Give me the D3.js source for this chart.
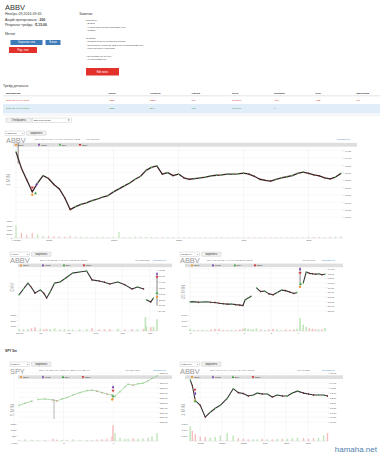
<!DOCTYPE html>
<html>
<head>
<meta charset="utf-8">
<script src="https://cdn.jsdelivr.net/npm/d3@7"></script>
<style>
body { margin: 0; background: #fff; }
svg text { font-family: "Liberation Sans", Arial, sans-serif; }
</style>
</head>
<body>
<script>
// ---------- trade info ----------
var tradeCols = ["Дата/Время", "Тикер", "Сторона", "Объём", "Цена", "Позиция", "Итог", "Максимум"];
var tradeRows = [
  ["2016-11-09 09:45:20", "ABBV", "SELL", "100", "61.8000", "-100", "-15$", "3%"],
  ["2016-11-09 09:45:18", "ABBV", "BUY", "100", "61.9700", "0", "", ""]
];
var noteLines = ["Причины:", "- В игре", "- с открытия пошла закрывать гэп", "- Пойма", "",
  "Ошибки:", "- подала больше 2 дол/без отката", "- вход перед уровнем 65$ в 15 консолидаций дне", "- рано вышел с открытия", "",
  "Что сделал бы лучше:", "- не торговала бы"];

// ---------- chart A: ABBV 1 min (minutes from 9:30) ----------
var aMin = [0,5,10,15,20,25,30,35,40,45,50,55,60,65,70,75,80,85,90,95,100,105,110,115,120,125,130,135,140,145,150,155,160,165,170,175,180,185,190,195,200,205,210,215,220,225,230,235,240,245,250,255,260,265,270,275,280,285,290,295,300];
var aClose = [64.4,63.3,62.5,61.7,62.3,62.8,62.6,62.2,61.9,61.3,60.5,60.7,60.85,60.95,61.1,61.2,61.35,61.45,61.7,61.9,62.1,62.3,62.55,62.75,63.15,63.35,63.45,62.9,63.0,62.8,62.9,62.65,62.55,62.6,62.65,62.7,62.78,62.82,62.85,62.9,62.9,62.92,62.97,62.9,62.75,62.55,62.48,62.43,62.55,62.65,62.72,62.8,62.95,63.04,62.95,62.85,62.78,62.65,62.57,62.7,62.95];
var aVol = [6000,2400,1500,2500,1800,1100,900,800,700,600,900,700,600,500,500,600,500,450,500,2800,500,450,600,700,500,500,400,400,350,400,300,300,350,300,300,350,300,400,500,350,300,300,250,300,300,350,300,300,350,400,350,300,300,350,400,450,500,400,500,600,700];
var aWicks = [[2, 65.0, 63.6]];
var aMarks = [["sell", 15, 62.0], ["open", 15, 61.5], ["buy", 18, 61.6], ["close", 19, 62.2]];
var aTicks = [0, 30, 90, 150, 210, 270];
var aTickLabels = ["9:30am", "10am", "11am", "12pm", "1pm", "2pm"];
var aYTicks = [60, 60.5, 61, 61.5, 62, 62.5, 63, 63.5, 64, 64.5, 65];

// ---------- chart B: ABBV daily ----------
var bDates = ["2016-06-07","2016-06-12","2016-06-17","2016-06-21","2016-06-25","2016-07-01","2016-07-05","2016-07-08","2016-07-12","2016-07-17","2016-07-23","2016-07-28","2016-08-02","2016-08-06","2016-08-14","2016-08-22","2016-08-28","2016-09-05","2016-09-11","2016-09-17","2016-09-26","2016-10-04","2016-10-12","2016-10-18","2016-10-25","2016-10-27","2016-10-28","2016-11-02","2016-11-05","2016-11-09"];
var bClose = [59.5,61.5,63.5,62.0,60.1,61.2,60.0,58.4,60.5,63.5,63.9,64.9,66.0,66.9,67.3,67.6,64.6,64.2,63.8,63.2,63.9,62.9,61.5,62.2,61.5,null,57.8,57.1,58.4,null];
var bVol = [400,300,350,500,700,450,300,400,350,500,300,350,300,250,300,350,500,300,300,350,400,300,350,300,400,2600,900,700,800,2200];
var bWicks = [["2016-11-09", 66.2, 55.9]];
var bMarks = [["close", "2016-11-09", 66.6], ["sell", "2016-11-09", 65.6], ["buy", "2016-11-09", 60.1], ["open", "2016-11-09", 58.8]];
var bTicks = ["2016-06-07", "2016-07-01", "2016-08-01", "2016-09-01", "2016-10-01", "2016-11-01"];
var bTickLabels = ["Jun 07", "Jul", "Aug", "Sep", "Oct", "Nov"];
var bYTicks = [54, 56, 58, 60, 62, 64, 66, 68, 70];

// ---------- chart C: ABBV 15 min (bar index, 26 bars a day) ----------
var cIdx = [0,4,8,12,16,20,24,28,32,36,40,44,48,51,53,56,59,61,64,68,72,76,80,84,88,92,96,100,103,106,109,112,115,118,121,124,127,130];
var cClose = [56.9,56.95,56.8,56.85,56.9,56.8,56.75,56.6,56.5,56.4,56.45,56.3,56.2,56.1,57.3,57.7,58.1,null,59.9,59.1,59.2,58.6,58.4,58.9,59.4,59.3,59.0,58.7,58.9,null,60.9,63.3,63.0,62.9,62.8,62.9,62.7,62.8];
var cVol = [0.4,0.2,0.2,0.2,0.2,0.3,0.4,0.4,0.2,0.2,0.2,0.2,0.3,0.4,0.6,0.4,0.3,0.3,0.5,0.3,0.2,0.3,0.4,0.3,0.2,0.3,0.2,0.3,0.4,2.4,1.2,0.8,0.5,0.4,0.3,0.3,0.3,0.6];
var cWicks = [[106, 64.2, 60.0]];
var cMarks = [["close", 106, 63.9], ["sell", 106, 63.1], ["buy", 106.5, 60.7], ["open", 106, 60.1]];
var cTicks = [0, 26, 52, 78, 104];
var cTickLabels = ["3", "4", "7", "8", "9"];
var cYTicks = [55, 56, 57, 58, 59, 60, 61, 62, 63, 64, 65];

// ---------- chart D: SPY 5 min (hours from Nov 7 00:00) ----------
var dT = [2.4,5.3,8.7,10,11.6,15,18.9,20.8,23.3,25.7,28.6,32,35.4,37.8,40.2,42.7,45.1,47.5,48,49,51.4,53.8,55.3,57.7,60.1,62.5,65,66.9,69.3];
var dClose = [211.4,211.8,212.3,null,212.6,212.7,212.5,212.3,212.7,213.0,213.5,214.0,214.4,214.5,214.3,214.0,213.7,213.5,212.8,213.3,214.2,215.2,215.7,215.5,215.8,215.9,216.4,216.9,217.4];
var dVol = [100,150,120,0,90,100,200,120,100,120,150,100,90,100,120,150,200,400,1400,700,300,200,200,250,200,250,300,400,700];
var dWicks = [[19.4, 212.6, 208.6]];
var dMarks = [["close", 48, 215.1], ["sell", 48, 214.4], ["buy", 48, 213.3], ["open", 47.6, 212.6]];
var dTicks = [0, 24, 48];
var dTickLabels = ["7 Nov", "8", "9"];
var dYTicks = [208, 209, 210, 211, 212, 213, 214, 215, 216, 217, 218];

// ---------- chart E: ABBV 1 min, full day (minutes from 9:30) ----------
var eMin = [2,8,16,30,44,58,72,86,105,122,136,150,164,178,189,203,217,231,245,259,273,287,301,318,332,346,360,374,385];
var eClose = [64.3,63.7,62.2,61.7,60.5,61.0,61.4,61.7,62.4,63.4,63.0,62.9,62.65,62.75,62.95,62.85,62.85,62.55,62.75,62.65,62.65,62.95,63.15,62.95,62.85,62.75,62.75,62.75,62.65];
var eVol = [1.3,0.9,0.6,0.4,0.35,0.3,0.35,0.5,0.7,0.5,0.25,0.2,0.15,0.15,0.15,0.2,0.15,0.15,0.2,0.2,0.2,0.25,0.3,0.25,0.2,0.25,0.3,0.5,0.7];
var eMarks = [["sell", 15, 63.3], ["close", 16, 62.9], ["open", 15, 62.2], ["buy", 16, 62.1]];
var eTicks = [30, 90, 150, 210, 270, 330];
var eTickLabels = ["10am", "11am", "12pm", "1pm", "2pm", "3pm"];
var eYTicks = [60, 60.5, 61, 61.5, 62, 62.5, 63, 63.5, 64, 64.5, 65];

// ---------- page ----------
var svg = d3.select("body").append("svg").attr("width", 380).attr("height", 454);
svg.append("rect").attr("width", 380).attr("height", 454).attr("fill", "#fff");

function text(g, x, y, s, size, fill, weight, anchor) {
  return g.append("text").attr("x", x).attr("y", y).text(s)
    .style("font-size", size + "px").style("fill", fill || "#333")
    .style("font-weight", weight || "normal").attr("text-anchor", anchor || "start");
}
function button(g, x, y, w, h, label, bg, fg, border) {
  g.append("rect").attr("x", x).attr("y", y).attr("width", w).attr("height", h).attr("rx", 0.5)
    .attr("fill", bg).attr("stroke", border || "none").attr("stroke-width", 0.3);
  text(g, x + w / 2, y + h / 2 + 0.9, label, 2.6, fg, "normal", "middle");
}

var head = svg.append("g");
text(head, 5, 9.5, "ABBV", 7.5, "#333");
text(head, 5, 14.5, "Ноябрь 09,2016 09:45", 3.6, "#333");
text(head, 5, 21, "Акций проторговано : ", 3.4, "#333").append("tspan").style("font-weight", "bold").text("200");
text(head, 5, 25.5, "Результат трейда : ", 3.4, "#333").append("tspan").style("font-weight", "bold").text("$-15.00");
text(head, 5, 35, "Метки:", 3.4, "#333");
button(head, 10.5, 40, 32, 5, "Закрытие гэпа", "#3d7ab8", "#fff");
button(head, 45.5, 40, 15, 5, "В игре", "#3d7ab8", "#fff");
button(head, 9, 47, 28, 6, "Ред. теги", "#e2302a", "#fff");

text(head, 79, 15, "Заметки:", 3.4, "#333");
noteLines.forEach(function(s, i) {
  text(head, 86, 20.5 + i * 3.6, s, 2.5, "#444");
});
button(head, 86, 68, 33, 7.5, "Edit notes", "#e2302a", "#fff");

// table
text(head, 3, 86.5, "Трейд детально:", 3.4, "#333");
var colX = [6, 108.5, 150, 191.5, 232, 274, 315.5, 356.5];
tradeCols.forEach(function(c, i) { text(head, colX[i], 94, c, 2.5, "#333", "bold"); });
head.append("line").attr("x1", 3).attr("x2", 380).attr("y1", 95.8).attr("y2", 95.8).attr("stroke", "#ccc").attr("stroke-width", 0.5);
head.append("rect").attr("x", 3).attr("y", 104).attr("width", 377).attr("height", 9.5).attr("fill", "#e1edf8");
tradeRows.forEach(function(r, j) {
  var col = r[2] === "SELL" ? "#d2332c" : "#3c9a3c";
  r.forEach(function(s, i) { text(head, colX[i], 101 + j * 8, s, 2.5, col); });
});
head.append("line").attr("x1", 3).attr("x2", 380).attr("y1", 115.2).attr("y2", 115.2).attr("stroke", "#ddd").attr("stroke-width", 0.5);
button(head, 6, 118, 25.5, 4.3, "Отобразить", "#f2f2f2", "#333", "#aaa");
head.append("rect").attr("x", 32.5).attr("y", 118).attr("width", 39).attr("height", 4.3).attr("fill", "#fff").attr("stroke", "#aaa").attr("stroke-width", 0.3);
text(head, 34, 121.2, "Данный трейд", 2.5, "#333");
text(head, 68, 121.2, "▾", 2.5, "#333");
text(head, 5, 352, "SPY 5m", 3.2, "#333", "bold");

// ---------- chart drawing ----------
var colors = {open: "#ee8d1e", close: "#6a2fa6", buy: "#33a23c", sell: "#c8242b"};
function markerPath(type, size) {
  if (type === "open") return d3.symbol(d3.symbolCircle, size)();
  if (type === "close") return d3.symbol(d3.symbolDiamond, size)();
  return d3.symbol(d3.symbolTriangle, size)();
}

function chart(o) {
  var g = svg.append("g");
  // controls above the panel
  var cx = o.panel[0], cy = o.panel[1] - 6;
  g.append("rect").attr("x", cx).attr("y", cy).attr("width", 19.5).attr("height", 4.3).attr("fill", "#fff").attr("stroke", "#aaa").attr("stroke-width", 0.3);
  text(g, cx + 1, cy + 3.1, o.ctrl, 2.5, "#333");
  text(g, cx + 17, cy + 3.1, "▾", 2.3, "#333");
  button(g, cx + 21.5, cy, 19.5, 4.3, "закрепить", "#f2f2f2", "#333", "#aaa");

  g.append("rect").attr("x", o.panel[0]).attr("y", o.panel[1]).attr("width", o.panel[2]).attr("height", o.panel[3]).attr("fill", "#fff");

  var x = o.x;
  var y = d3.scaleLinear().domain(o.yDomain).range(o.yRange);
  var v = d3.scaleLinear().domain(o.vDomain).range(o.vRange);
  var X = function(t) { return x(o.parse ? o.parse(t) : t); };

  // grid
  g.append("g").selectAll("line").data(o.xTicks).enter().append("line")
    .attr("x1", X).attr("x2", X).attr("y1", o.yRange[1]).attr("y2", o.vRange[0])
    .attr("stroke", "#ececec").attr("stroke-width", 0.4);
  g.append("g").selectAll("line").data(o.yTicks).enter().append("line")
    .attr("x1", o.xr[0]).attr("x2", o.xr[1]).attr("y1", y).attr("y2", y)
    .attr("stroke", "#f0f0f0").attr("stroke-width", 0.4);

  // y axis right
  var ya = g.append("g").attr("transform", "translate(" + o.xr[1] + ",0)")
    .call(d3.axisRight(y).tickValues(o.yTicks).tickFormat(d3.format(".2f")).tickSize(1.2).tickPadding(0.8));
  ya.attr("font-size", 2.5).attr("font-family", null);
  ya.select(".domain").remove();
  ya.selectAll("line").attr("stroke", "#999").attr("stroke-width", 0.3);
  ya.selectAll("text").attr("fill", "#555");

  // volume axis left
  var va = g.append("g").attr("transform", "translate(" + (o.xr[0] - 0.5) + ",0)")
    .call(d3.axisLeft(v).tickValues(o.vTicks).tickFormat(o.vFmt).tickSize(1).tickPadding(0.6));
  va.attr("font-size", 2.4).attr("font-family", null);
  va.select(".domain").remove();
  va.selectAll("line").attr("stroke", "#999").attr("stroke-width", 0.3);
  va.selectAll("text").attr("fill", "#555");

  // x axis
  var xa = g.append("g").attr("transform", "translate(0," + o.vRange[0] + ")")
    .call(d3.axisBottom(x).tickValues(o.xTicks.map(function(t) { return o.parse ? o.parse(t) : t; }))
      .tickFormat(function(d, i) { return o.xLabels[i]; }).tickSize(0).tickPadding(1.6));
  xa.attr("font-size", 2.5).attr("font-family", null);
  xa.select(".domain").attr("stroke", "#ccc").attr("stroke-width", 0.4).attr("d", "M" + o.xr[0] + ",0H" + o.xr[1]);
  xa.selectAll("text").attr("fill", "#555");

  // header texts
  text(g, o.titlePos[0], o.titlePos[1] - 0.8, o.title, 7.4, "#999").style("font-weight", "300");
  text(g, o.infoPos[0], o.infoPos[1], o.info, 2.5, "#666");
  text(g, o.volPos[0], o.volPos[1], o.vol, 2.5, "#666");
  text(g, o.link[0], o.link[1], "hamaha.net", 2.4, "#3a8fd0");
  g.append("text").attr("transform", "translate(" + o.sidePos[0] + "," + o.sidePos[1] + ") rotate(-90)")
    .attr("text-anchor", "middle").style("font-size", "4.5px").style("fill", "#aaa").text(o.side);

  // legend bar
  var L = o.legend;
  g.append("rect").attr("x", L[0]).attr("y", L[1]).attr("width", L[2]).attr("height", L[3]).attr("fill", "#dedede");
  ["open", "close", "buy", "sell"].forEach(function(k, i) {
    var lx = o.legendX[i], ly = L[1] + L[3] / 2;
    g.append("path").attr("d", markerPath(k, 3.2))
      .attr("transform", "translate(" + lx + "," + ly + ")" + (k === "sell" ? " rotate(180)" : ""))
      .attr("fill", colors[k]);
    text(g, lx + 2, ly + 1, {open: "Open", close: "Close", buy: "BUY", sell: "SELL"}[k], 2.3, "#333");
  });

  // volume bars
  var bw = o.barW;
  g.append("g").selectAll("rect").data(o.v).enter().append("rect")
    .attr("x", function(d, i) { return X(o.t[i]) - bw / 2; })
    .attr("width", bw)
    .attr("y", function(d) { return v(d); })
    .attr("height", function(d) { return o.vRange[0] - v(d); })
    .attr("fill", function(d, i) {
      var p = o.c[i - 1], c = o.c[i];
      return (p == null || c == null || c >= p) ? "#bfe5b8" : "#f4bcbc";
    });

  // wicks
  g.append("g").selectAll("line").data(o.wicks || []).enter().append("line")
    .attr("x1", function(d) { return X(d[0]); }).attr("x2", function(d) { return X(d[0]); })
    .attr("y1", function(d) { return y(d[1]); }).attr("y2", function(d) { return y(d[2]); })
    .attr("stroke", o.wickColor || "#555").attr("stroke-width", 0.7);

  // price line
  var pts = o.c.map(function(c, i) { return {t: o.t[i], c: c, p: i > 0 ? o.c[i - 1] : null}; });
  var line = d3.line().defined(function(d) { return d.c != null; })
    .x(function(d) { return X(d.t); }).y(function(d) { return y(d.c); });
  g.append("path").datum(pts).attr("d", line).attr("fill", "none")
    .attr("stroke", o.lineColor).attr("stroke-width", o.lineW).attr("stroke-linejoin", "round");

  // small candle bodies on the line
  g.append("g").selectAll("rect").data(pts.filter(function(d) { return d.c != null; }))
    .enter().append("rect")
    .attr("x", function(d) { return X(d.t) - 0.5; })
    .attr("width", 1)
    .attr("y", function(d) { return y(d.c) - 0.8; })
    .attr("height", 1.6)
    .attr("fill", function(d) { return (d.p == null || d.c >= d.p) ? o.up : o.down; });

  // trade markers
  g.append("g").selectAll("path").data(o.marks).enter().append("path")
    .attr("d", function(d) { return markerPath(d[0], 4.5); })
    .attr("transform", function(d) { return "translate(" + X(d[1]) + "," + y(d[2]) + ")" + (d[0] === "sell" ? " rotate(180)" : ""); })
    .attr("fill", function(d) { return colors[d[0]]; })
    .attr("stroke", "#fff").attr("stroke-width", 0.2);
}

var parseDay = d3.timeParse("%Y-%m-%d");

chart({
  ctrl: "1 минута", panel: [5, 137, 352, 107],
  title: "ABBV", titlePos: [6, 143.5],
  info: "Nov 9 O: 64.11 H: 64.7 L: 60.16 C: 62.37", infoPos: [35, 139.8],
  vol: "Vol: 13.09M", volPos: [86, 139.8], link: [337, 139.8],
  legend: [13, 142.9, 344, 3.8], legendX: [16, 39, 60, 80],
  side: "1 MIN", sidePos: [9.5, 180],
  x: d3.scaleLinear().domain([0, 300]).range([16, 341]), xr: [14, 343],
  xTicks: aTicks, xLabels: aTickLabels,
  yDomain: [60, 65], yRange: [217, 143], yTicks: aYTicks,
  vDomain: [0, 8000], vRange: [238, 221], vTicks: [0, 2000, 4000, 6000, 8000], vFmt: function(d) { return d; },
  t: aMin, c: aClose, v: aVol, wicks: aWicks, marks: aMarks, barW: 1.2,
  lineColor: "#3a2626", lineW: 1.3, up: "#62b562", down: "#7a2424"
});

chart({
  ctrl: "1 день", panel: [10, 258, 162, 80],
  title: "ABBV", titlePos: [10, 264],
  info: "Nov 9 O: 55.82 H: 66.17 L: 55.86 C: 62.83", infoPos: [40, 261],
  vol: "Vol: 883.78M", volPos: [135, 261], link: [153, 261],
  legend: [18, 263.6, 154, 3.6], legendX: [21, 43, 64, 84],
  side: "DAY", sidePos: [14, 287],
  parse: parseDay,
  x: d3.scaleTime().domain([parseDay("2016-06-07"), parseDay("2016-11-09")]).range([19, 157]), xr: [18, 157],
  xTicks: bTicks, xLabels: bTickLabels,
  yDomain: [54, 70], yRange: [311, 264], yTicks: bYTicks,
  vDomain: [0, 3000], vRange: [331, 315], vTicks: [1000, 2000, 3000], vFmt: function(d) { return d; },
  t: bDates, c: bClose, v: bVol, wicks: bWicks, marks: bMarks, barW: 1.6,
  lineColor: "#333", lineW: 1.1, up: "#62b562", down: "#7a2424"
});

chart({
  ctrl: "15 минут", panel: [180, 258, 163, 80],
  title: "ABBV", titlePos: [180, 264],
  info: "Nov 9 O: 57.12 H: 64.7 L: 55.85 C: 62.83", infoPos: [207, 261],
  vol: "Vol: 57.14M", volPos: [302, 261], link: [322, 261],
  legend: [185, 263.6, 158, 3.6], legendX: [192, 213, 235, 255],
  side: "15 MIN", sidePos: [185, 292],
  x: d3.scaleLinear().domain([0, 130]).range([190, 325]), xr: [189, 326],
  xTicks: cTicks, xLabels: cTickLabels,
  yDomain: [55, 65], yRange: [310.7, 264], yTicks: cYTicks,
  vDomain: [0, 3], vRange: [331, 315], vTicks: [1, 2, 3], vFmt: function(d) { return d.toFixed(1) + "M"; },
  t: cIdx, c: cClose, v: cVol, wicks: cWicks, marks: cMarks, barW: 1.6,
  lineColor: "#333", lineW: 1.1, up: "#62b562", down: "#7a2424"
});

chart({
  ctrl: "5 минут", panel: [10, 368, 162, 80],
  title: "SPY", titlePos: [10, 375],
  info: "Nov 9 O: 211.45 H: 217.1 L: 208.49 C: 216.41", infoPos: [39, 371],
  vol: "Vol: 389.07M", volPos: [125, 371], link: [153, 371],
  legend: [18, 375.3, 154, 3.6], legendX: [21, 43, 63, 83],
  side: "5 MIN", sidePos: [14, 410],
  x: d3.scaleLinear().domain([0, 70]).range([14, 158.4]), xr: [18, 158],
  xTicks: dTicks, xLabels: dTickLabels,
  yDomain: [208, 218], yRange: [422, 373], yTicks: dYTicks,
  vDomain: [0, 1500], vRange: [441, 424], vTicks: [500, 1000, 1500], vFmt: function(d) { return d; },
  t: dT, c: dClose, v: dVol, wicks: dWicks, marks: dMarks, barW: 1.4, wickColor: "#999",
  lineColor: "#8fc98a", lineW: 0.7, up: "#8fcf88", down: "#c98080"
});

chart({
  ctrl: "1 минута", panel: [180, 368, 163, 80],
  title: "ABBV", titlePos: [180, 375],
  info: "Nov 9 O: 64.1 H: 64.7 L: 60.41 C: 62.63", infoPos: [210, 371],
  vol: "Vol: 16.85M", volPos: [297, 371], link: [322, 371],
  legend: [185, 375.3, 158, 3.6], legendX: [192, 213, 233, 253],
  side: "1 MIN", sidePos: [185, 410],
  x: d3.scaleLinear().domain([0, 390]).range([189.5, 329.3]), xr: [189, 328],
  xTicks: eTicks, xLabels: eTickLabels,
  yDomain: [60, 65], yRange: [422, 373], yTicks: eYTicks,
  vDomain: [0, 1.5], vRange: [441, 424], vTicks: [0.5, 1, 1.5], vFmt: function(d) { return d.toFixed(1) + "M"; },
  t: eMin, c: eClose, v: eVol, marks: eMarks, barW: 1.4,
  lineColor: "#333", lineW: 1.1, up: "#62b562", down: "#7a2424"
});

// watermark
text(svg, 377, 451.5, "hamaha.net", 8, "#4f7fae", "normal", "end");
</script>
</body>
</html>
